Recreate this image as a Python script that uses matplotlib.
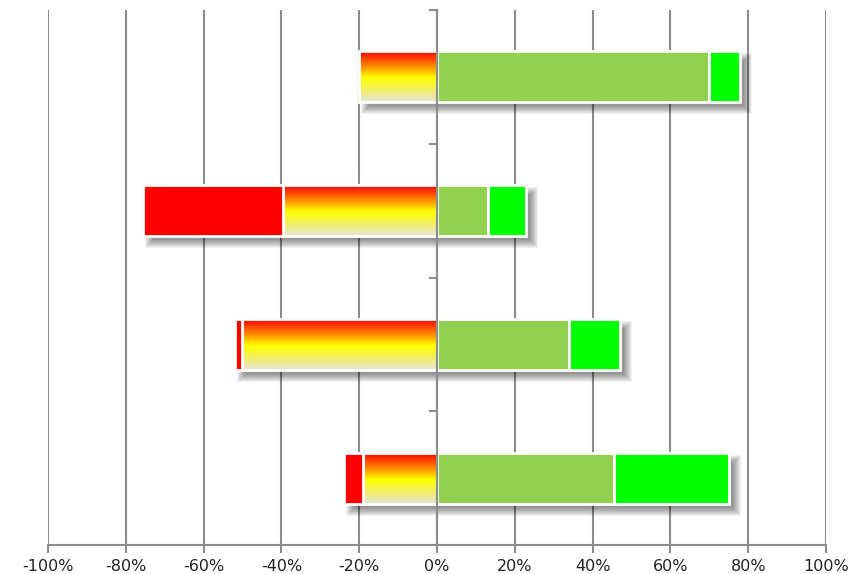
import numpy as np
import matplotlib.pyplot as plt
from matplotlib.patches import Rectangle
from matplotlib.colors import LinearSegmentedColormap

# values in percent, top row first
rows = ["A", "B", "C", "D"]
neg_inner = [20, 39.5, 50, 19]     # gradient part next to zero
neg_outer = [0, 36, 2, 5]          # solid red part
pos_inner = [70, 13, 34, 45.5]     # light green
pos_outer = [8, 10, 13, 29.5]      # bright green
xticks = [-100, -80, -60, -40, -20, 0, 20, 40, 60, 80, 100]

RED = "#ff0000"
LIGHT_GREEN = "#92d050"
GREEN = "#00ff00"
grad_cmap = LinearSegmentedColormap.from_list(
    "warm", [(0.0, "#ff0000"), (0.3, "#ff8c00"), (0.52, "#ffff00"),
             (0.75, "#f2f060"), (1.0, "#e4e4dc")])

W, H = 857, 574
fig = plt.figure(figsize=(W / 100, H / 100), dpi=100)
ax_w, ax_h = 778, 535
ax = fig.add_axes([48 / W, 29 / H, ax_w / W, ax_h / H])

ax.set_xlim(-100, 100)
ax.set_ylim(len(rows) - 0.5, -0.5)
px_x = 200 / ax_w          # one pixel in data units
px_y = len(rows) / ax_h

for x in xticks:
    ax.axvline(x, color="#8c8c8c", lw=1.5, zorder=1)

h = 0.38
grad = np.linspace(0, 1, 256).reshape(-1, 1)

for i in range(len(rows)):
    y0 = i - h / 2
    left = -(neg_inner[i] + neg_outer[i])
    right = pos_inner[i] + pos_outer[i]

    # soft drop shadow, shifted right and down
    sx, sy = 7 * px_x, 7 * px_y
    for r in range(-3, 6):
        ax.add_patch(Rectangle((left + sx - r * px_x, y0 + sy - r * px_y),
                               right - left + 2 * r * px_x, h + 2 * r * px_y,
                               facecolor="black", edgecolor="none",
                               alpha=0.055, zorder=2))

    # gradient segment, drawn as an image
    ax.imshow(grad, cmap=grad_cmap, aspect="auto", zorder=3,
              extent=(-neg_inner[i], 0, i + h / 2, y0), interpolation="bilinear")
    ax.add_patch(Rectangle((-neg_inner[i], y0), neg_inner[i], h, facecolor="none",
                           edgecolor="white", lw=2, zorder=4))

    segs = [(-neg_inner[i] - neg_outer[i], neg_outer[i], RED),
            (0, pos_inner[i], LIGHT_GREEN),
            (pos_inner[i], pos_outer[i], GREEN)]
    for start, width, color in segs:
        if width > 0:
            ax.add_patch(Rectangle((start, y0), width, h, facecolor=color,
                                   edgecolor="white", lw=2, zorder=4))

ax.set_xlim(-100, 100)
ax.set_ylim(len(rows) - 0.5, -0.5)

# zero line acts as the category axis
ax.axvline(0, color="#8c8c8c", lw=1.5, zorder=5)
for b in np.arange(-0.5, len(rows), 1.0):
    ax.plot([-1.8, 0], [b, b], color="#8c8c8c", lw=1.5, zorder=5, clip_on=False)

for s in ["top", "left", "right"]:
    ax.spines[s].set_visible(False)
ax.spines["bottom"].set_color("#8c8c8c")
ax.spines["bottom"].set_linewidth(1.5)
ax.set_yticks([])
ax.set_xticks(xticks)
ax.set_xticklabels([f"{x}%" for x in xticks], fontsize=11.5, color="#222222")
ax.tick_params(axis="x", length=6, width=1.5, color="#8c8c8c", pad=4)

fig.savefig("out.png", dpi=100)
